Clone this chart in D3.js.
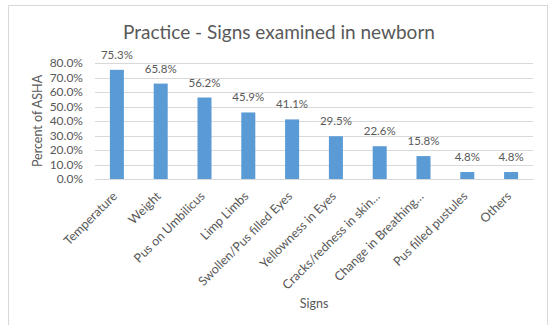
<!DOCTYPE html>
<html>
<head>
<meta charset="utf-8">
<script src="https://cdn.jsdelivr.net/npm/d3@7"></script>
<style>
  body { margin: 0; background: #fff; }
  svg text { font-family: Lato, "Open Sans", sans-serif; fill: #595959; }
</style>
</head>
<body>
<div id="chart"></div>
<script>
const signs = ["Temperature", "Weight", "Pus on Umbilicus", "Limp Limbs", "Swollen/Pus filled Eyes",
    "Yellowness in Eyes", "Cracks/redness in skin\u2026", "Change in Breathing\u2026", "Pus filled pustules", "Others"];
const percents = [75.3, 65.8, 56.2, 45.9, 41.1, 29.5, 22.6, 15.8, 4.8, 4.8];
const yTicks = [0, 10, 20, 30, 40, 50, 60, 70, 80];

const width = 550, height = 325;
const svg = d3.select("#chart").append("svg")
    .attr("width", width)
    .attr("height", height);

// chart frame
svg.append("rect")
    .attr("x", 8.5).attr("y", 5.5)
    .attr("width", 539).attr("height", 340)
    .attr("fill", "#fff")
    .attr("stroke", "#d9d9d9");

const plotLeft = 95, plotRight = 533, plotTop = 63, plotBottom = 179;

const xScale = d3.scaleBand().domain(signs).range([plotLeft, plotRight]).paddingInner(0.68).paddingOuter(0.34);
const yScale = d3.scaleLinear().domain([0, 80]).range([plotBottom, plotTop]);

// gridlines
svg.append("g")
    .selectAll("line")
    .data(yTicks)
    .enter()
    .append("line")
    .attr("x1", plotLeft).attr("x2", plotRight)
    .attr("y1", d => Math.round(yScale(d)) + 0.5)
    .attr("y2", d => Math.round(yScale(d)) + 0.5)
    .attr("stroke", "#d9d9d9");

const yAxis = d3.axisLeft(yScale)
    .tickValues(yTicks)
    .tickSize(0)
    .tickPadding(12)
    .tickFormat(d => d.toFixed(1) + "%");

svg.append("g")
    .attr("transform", `translate(${plotLeft},0)`)
    .call(yAxis)
    .call(g => g.select(".domain").remove())
    .selectAll("text")
    .style("font-size", "12px")
    .style("fill", "#595959");

svg.append("g")
    .selectAll("rect")
    .data(percents)
    .enter()
    .append("rect")
    .attr("x", (d, i) => xScale(signs[i]))
    .attr("width", xScale.bandwidth())
    .attr("y", d => yScale(d))
    .attr("height", d => plotBottom - yScale(d))
    .attr("fill", "#5b9bd5");

svg.append("g")
    .selectAll("text")
    .data(percents)
    .enter()
    .append("text")
    .attr("x", (d, i) => xScale(signs[i]) + xScale.bandwidth() / 2)
    .attr("y", d => yScale(d) - 11)
    .attr("text-anchor", "middle")
    .style("font-size", "11.5px")
    .text(d => d.toFixed(1) + "%");

const xAxis = d3.axisBottom(xScale).tickSize(0).tickPadding(0);

svg.append("g")
    .attr("transform", `translate(0,${plotBottom})`)
    .call(xAxis)
    .call(g => g.select(".domain").attr("stroke", "#d9d9d9"))
    .selectAll("text")
    .attr("text-anchor", "end")
    .attr("dy", "0")
    .attr("transform", "translate(1,18) rotate(-45)")
    .style("font-size", "12.5px")
    .style("fill", "#595959");

svg.append("text")
    .attr("x", 279).attr("y", 39)
    .attr("text-anchor", "middle")
    .style("font-size", "19px")
    .text("Practice - Signs examined in newborn");

svg.append("text")
    .attr("transform", `translate(42,${(plotTop + plotBottom) / 2}) rotate(-90)`)
    .attr("text-anchor", "middle")
    .style("font-size", "12.5px")
    .text("Percent of ASHA");

svg.append("text")
    .attr("x", (plotLeft + plotRight) / 2).attr("y", 308)
    .attr("text-anchor", "middle")
    .style("font-size", "12.5px")
    .text("Signs");
</script>
</body>
</html>
